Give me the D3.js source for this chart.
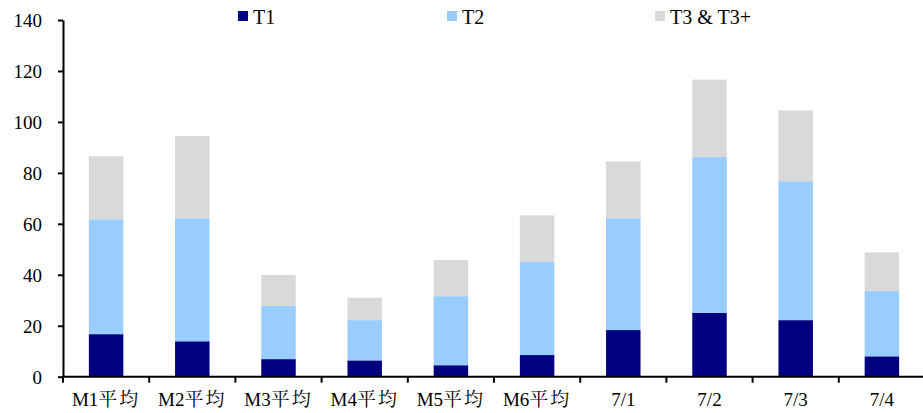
<!DOCTYPE html>
<html>
<head>
<meta charset="utf-8">
<script src="https://cdn.jsdelivr.net/npm/d3@7"></script>
<style>
  html, body { margin: 0; padding: 0; background: #fff; }
  svg { display: block; }
</style>
</head>
<body>
<svg id="chart" width="923" height="413"></svg>
<script>
const categories = ["M1平均", "M2平均", "M3平均", "M4平均", "M5平均", "M6平均", "7/1", "7/2", "7/3", "7/4"];
const t1 = [16.7, 13.9, 6.9, 6.4, 4.5, 8.5, 18.3, 25.0, 22.2, 8.0];
const t2 = [45.1, 48.3, 20.9, 15.8, 27.1, 36.7, 43.9, 61.2, 54.5, 25.6];
const t3 = [24.7, 32.3, 12.1, 8.8, 14.2, 18.1, 22.3, 30.4, 27.8, 15.2];
const seriesNames = ["T1", "T2", "T3 & T3+"];
const seriesColors = ["#000080", "#99CCFF", "#D9D9D9"];
const yTicks = [0, 20, 40, 60, 80, 100, 120, 140];

const SERIF = "'Liberation Serif', 'Times New Roman', serif";
const SERIF_CJK = "'Noto Serif CJK SC', 'Noto Sans CJK SC', serif";

const svg = d3.select("#chart");
const margin = { left: 63, right: -2, top: 20 };
const width = 923;
const plotBottom = 376.7;

const x = d3.scaleBand()
  .domain(categories)
  .range([margin.left, width - margin.right])
  .paddingInner(0.6)
  .paddingOuter(0.3);

const y = d3.scaleLinear().domain([0, 140]).range([plotBottom, margin.top]);

const rows = categories.map((c, i) => ({ cat: c, T1: t1[i], T2: t2[i], "T3 & T3+": t3[i] }));
const stack = d3.stack().keys(seriesNames)(rows);

// stacked bars
svg.append("g").selectAll("g")
  .data(stack)
  .join("g")
  .attr("fill", (d, i) => seriesColors[i])
  .selectAll("rect")
  .data(d => d)
  .join("rect")
  .attr("x", d => x(d.data.cat))
  .attr("width", x.bandwidth())
  .attr("y", d => y(d[1]))
  .attr("height", d => y(d[0]) - y(d[1]));

// y axis
const yAxis = svg.append("g")
  .attr("transform", `translate(${margin.left},0)`)
  .call(d3.axisLeft(y).tickValues(yTicks).tickSize(5).tickPadding(16).tickSizeOuter(0));
yAxis.select(".domain").attr("stroke", "#000").attr("stroke-width", 2);
yAxis.selectAll(".tick line").attr("stroke", "#000").attr("stroke-width", 2);
yAxis.selectAll(".tick text")
  .attr("font-size", 19).attr("dy", "0.34em").attr("fill", "#000")
  .style("font-family", SERIF);

// x axis with ticks at category boundaries
const n = categories.length;
const bounds = d3.range(n + 1).map(i => margin.left + i * (width - margin.right - margin.left) / n);
const xg = svg.append("g");
xg.append("line")
  .attr("x1", margin.left - 1).attr("x2", width)
  .attr("y1", plotBottom).attr("y2", plotBottom)
  .attr("stroke", "#000").attr("stroke-width", 2);
xg.selectAll("line.tk")
  .data(bounds)
  .join("line")
  .attr("class", "tk")
  .attr("x1", d => d).attr("x2", d => d)
  .attr("y1", plotBottom).attr("y2", plotBottom + 6)
  .attr("stroke", "#000").attr("stroke-width", 2);

// category labels: Latin part in serif, CJK part in a CJK serif face
const labels = xg.selectAll("text")
  .data(categories)
  .join("text")
  .attr("x", d => x(d) + x.bandwidth() / 2)
  .attr("y", 406)
  .attr("text-anchor", "middle")
  .attr("font-size", 19)
  .attr("fill", "#000")
  .style("font-family", SERIF);
labels.each(function (d) {
  const m = d.match(/^([^\u4e00-\u9fff]*)([\u4e00-\u9fff]*)$/);
  const t = d3.select(this);
  t.append("tspan").text(m[1]);
  if (m[2]) {
    t.append("tspan")
      .style("font-family", SERIF_CJK)
      .style("letter-spacing", "2px")
      .text(m[2]);
  }
});

// legend
const legendX = [238, 447, 655];
const lg = svg.append("g");
seriesNames.forEach((name, i) => {
  lg.append("rect")
    .attr("x", legendX[i]).attr("y", 11)
    .attr("width", 10).attr("height", 10)
    .attr("fill", seriesColors[i]);
  lg.append("text")
    .attr("x", legendX[i] + 15).attr("y", 23.5)
    .attr("font-size", 20)
    .attr("fill", "#000")
    .style("font-family", SERIF)
    .text(name);
});
</script>
</body>
</html>
